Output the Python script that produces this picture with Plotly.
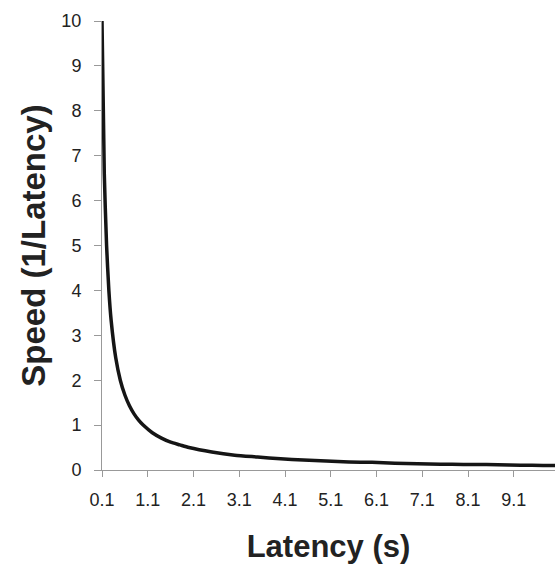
import plotly.graph_objects as go

latency = [0.1, 0.15, 0.2, 0.25, 0.3, 0.4, 0.5, 0.6, 0.7, 0.8, 0.9, 1.0,
           1.2, 1.4, 1.6, 1.8, 2.0, 2.5, 3.0, 3.5, 4.0, 4.5, 5.0, 5.5,
           6.0, 6.5, 7.0, 7.5, 8.0, 8.5, 9.0, 9.5, 10.0, 10.1]
speed = [10.0, 6.6, 5.0, 4.0, 3.33, 2.5, 2.0, 1.67, 1.43, 1.25, 1.11, 1.0,
         0.83, 0.71, 0.62, 0.56, 0.5, 0.4, 0.33, 0.29, 0.25, 0.22, 0.2, 0.18,
         0.17, 0.15, 0.14, 0.13, 0.125, 0.12, 0.11, 0.105, 0.1, 0.099]

x_tick_vals = [0.1, 1.1, 2.1, 3.1, 4.1, 5.1, 6.1, 7.1, 8.1, 9.1]
x_tick_text = ["0.1", "1.1", "2.1", "3.1", "4.1", "5.1", "6.1", "7.1", "8.1", "9.1"]
y_tick_vals = [0, 1, 2, 3, 4, 5, 6, 7, 8, 9, 10]

fig = go.Figure()
fig.add_trace(go.Scatter(x=latency, y=speed, mode="lines",
                         line=dict(color="#151515", width=3.5, shape="spline", smoothing=0.6),
                         showlegend=False, hoverinfo="skip"))

font_family = "Liberation Sans, Arial, sans-serif"
fig.update_layout(
    width=555, height=567,
    margin=dict(l=102, r=0, t=21, b=97),
    paper_bgcolor="white", plot_bgcolor="white",
    font=dict(family=font_family, color="#222", size=18),
    xaxis=dict(range=[0.1, 10.0], tickvals=x_tick_vals, ticktext=x_tick_text,
               showgrid=False, zeroline=False, showline=True, linecolor="#999",
               linewidth=1, ticks="outside", ticklen=6, tickcolor="#999",
               ticklabelstandoff=7,
               tickfont=dict(size=18, color="#222"),
               title=dict(text="<b>Latency (s)</b>", font=dict(size=31, color="#222"), standoff=26)),
    yaxis=dict(range=[0, 10], tickvals=y_tick_vals,
               showgrid=False, zeroline=False, showline=True, linecolor="#999",
               linewidth=1, ticks="outside", ticklen=7, tickcolor="#999",
               ticklabelstandoff=9,
               tickfont=dict(size=18, color="#222"),
               title=dict(text="<b>Speed (1/Latency)</b>", font=dict(size=33, color="#222"), standoff=5)),
)

fig.write_html("out.html")
